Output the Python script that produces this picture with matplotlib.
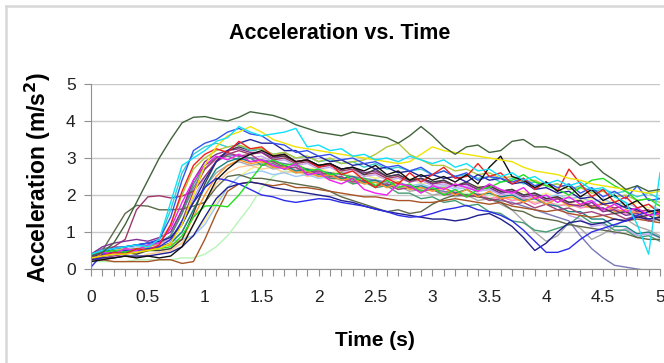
import numpy as np
import matplotlib
matplotlib.use("Agg")
import matplotlib.pyplot as plt
from matplotlib.lines import Line2D

plt.rcParams['font.family'] = ['Liberation Sans', 'DejaVu Sans']

# time samples (s), one value every 0.1 s
t = [round(0.1 * i, 1) for i in range(51)]

# acceleration traces (m/s^2)
top_olive = [0.35, 0.45, 0.70, 1.20, 1.80, 2.40, 3.00, 3.50, 3.95, 4.10, 4.12,
             4.05, 4.00, 4.10, 4.25, 4.20, 4.15, 4.05, 3.90, 3.80, 3.70,
             3.65, 3.60, 3.70, 3.65, 3.60, 3.55, 3.40, 3.60, 3.85, 3.60,
             3.30, 3.10, 3.30, 3.35, 3.15, 3.20, 3.45, 3.50, 3.30, 3.30,
             3.20, 3.05, 2.80, 2.90, 2.60, 2.40, 2.15, 2.25, 2.10, 2.15]
olive_gray = [0.30, 0.50, 1.00, 1.50, 1.72, 1.70, 1.60, 1.60, 1.62, 1.70, 1.80,
              2.20, 2.50, 2.55, 2.45, 2.45, 2.40, 2.35, 2.30, 2.25, 2.20,
              2.10, 1.95, 1.85, 1.75, 1.65, 1.55, 1.60, 1.50, 1.55, 1.75,
              1.90, 2.00, 2.00, 1.95, 1.90, 1.80, 1.60, 1.55, 1.40, 1.35,
              1.30, 1.20, 1.15, 1.10, 1.05, 1.00, 0.95, 0.85, 0.80, 0.80]
blue_low = [0.05, 0.40, 0.45, 0.50, 0.50, 0.55, 0.60, 0.80, 1.30, 1.80, 2.20,
            2.45, 2.40, 2.30, 2.15, 2.00, 1.95, 1.85, 1.80, 1.85, 1.90,
            1.88, 1.80, 1.75, 1.70, 1.62, 1.55, 1.45, 1.40, 1.42, 1.50,
            1.60, 1.65, 1.72, 1.60, 1.55, 1.45, 1.30, 1.05, 0.75, 0.45,
            0.45, 0.55, 0.80, 1.00, 1.10, 1.20, 1.30, 1.45, 1.55, 1.60]
navy_low = [0.25, 0.30, 0.30, 0.35, 0.35, 0.35, 0.40, 0.45, 0.60, 0.90, 1.40,
            1.90, 2.20, 2.30, 2.35, 2.30, 2.20, 2.15, 2.10, 2.05, 2.00,
            1.95, 1.85, 1.80, 1.70, 1.62, 1.55, 1.50, 1.45, 1.40, 1.35,
            1.35, 1.30, 1.35, 1.45, 1.50, 1.35, 1.15, 0.85, 0.50, 0.70,
            1.00, 1.25, 1.30, 1.20, 1.25, 1.35, 1.30, 1.40, 1.35, 1.40]
slate = [0.40, 0.55, 0.60, 0.60, 0.65, 0.70, 0.70, 0.90, 1.50, 2.20, 2.70,
         3.00, 3.10, 3.05, 3.00, 2.95, 2.90, 2.85, 2.80, 2.70, 2.65,
         2.60, 2.55, 2.50, 2.45, 2.40, 2.35, 2.30, 2.25, 2.20, 2.15,
         2.10, 2.05, 2.00, 1.95, 1.90, 1.85, 1.80, 1.70, 1.60, 1.50,
         1.40, 1.30, 0.90, 0.55, 0.30, 0.10, 0.05, 0.00, -0.05, -0.05]
cyan = [0.40, 0.50, 0.55, 0.60, 0.65, 0.60, 0.80, 1.80, 2.80, 3.00, 3.20,
        3.45, 3.55, 3.85, 3.70, 3.60, 3.65, 3.70, 3.80, 3.30, 3.35,
        3.20, 3.25, 3.05, 3.10, 2.95, 3.00, 2.90, 3.05, 2.95, 2.85,
        2.95, 2.75, 2.85, 2.65, 2.70, 2.50, 2.60, 2.40, 2.50, 2.30,
        2.40, 2.25, 2.35, 2.15, 2.20, 1.95, 1.80, 1.20, 0.40, 2.60]
yellow = [0.30, 0.35, 0.40, 0.40, 0.45, 0.50, 0.55, 0.70, 1.20, 2.00, 2.80,
          3.30, 3.60, 3.70, 3.85, 3.70, 3.50, 3.40, 3.30, 3.25, 3.20,
          3.15, 3.10, 3.05, 3.00, 2.95, 2.90, 2.85, 2.90, 3.10, 3.30,
          3.20, 3.15, 3.10, 3.05, 3.00, 2.95, 2.90, 2.75, 2.65, 2.60,
          2.55, 2.45, 2.40, 2.30, 2.25, 2.20, 2.15, 2.10, 2.05, 2.10]
yellow_green = [0.40, 0.45, 0.50, 0.55, 0.50, 0.60, 0.70, 1.20, 2.00, 2.70, 3.00,
                3.20, 3.30, 3.35, 3.25, 3.25, 3.10, 3.15, 3.00, 3.05, 2.90,
                3.00, 2.85, 2.90, 2.95, 3.10, 3.30, 3.40, 3.10, 2.95, 2.80,
                2.80, 2.65, 2.70, 2.55, 2.60, 2.45, 2.50, 2.35, 2.40, 2.25,
                2.30, 2.15, 2.20, 2.05, 2.10, 1.95, 2.00, 1.85, 1.90, 1.80]
red = [0.30, 0.35, 0.45, 0.40, 0.55, 0.50, 0.65, 1.20, 2.10, 2.80, 3.10,
       3.25, 3.15, 3.45, 3.25, 3.30, 3.05, 3.10, 2.90, 2.95, 2.75,
       2.85, 2.55, 2.65, 2.40, 2.20, 2.45, 2.30, 2.60, 2.35, 2.55,
       2.75, 2.45, 2.50, 2.85, 2.50, 2.60, 2.30, 2.45, 2.15, 2.35,
       2.10, 2.70, 2.30, 1.95, 2.15, 1.80, 1.95, 1.65, 1.75, 1.50]
magenta = [0.35, 0.45, 0.40, 0.55, 0.50, 0.65, 0.70, 1.10, 1.80, 2.40, 2.80,
           3.05, 2.95, 3.10, 2.90, 2.95, 2.80, 2.70, 2.85, 2.55, 2.60,
           2.40, 2.30, 2.45, 2.15, 2.05, 2.00, 2.30, 2.25, 2.05, 2.25,
           2.15, 2.30, 2.20, 2.10, 2.30, 2.15, 2.05, 2.20, 1.90, 2.00,
           1.80, 1.95, 1.75, 1.85, 1.60, 1.75, 1.55, 1.65, 1.45, 1.50]
black = [0.20, 0.25, 0.30, 0.35, 0.30, 0.35, 0.30, 0.35, 0.60, 1.20, 1.80,
         2.40, 2.70, 2.95, 3.10, 3.20, 3.05, 3.10, 2.90, 2.95, 2.80,
         2.85, 2.70, 2.75, 2.65, 2.80, 2.55, 2.65, 2.40, 2.55, 2.40,
         2.50, 2.35, 2.55, 2.30, 2.75, 3.05, 2.50, 2.40, 2.20, 2.35,
         2.10, 2.25, 1.95, 2.15, 1.85, 2.00, 1.70, 1.85, 1.55, 1.60]
green = [0.40, 0.45, 0.50, 0.45, 0.55, 0.50, 0.55, 0.60, 0.90, 1.40, 1.70,
         1.72, 1.68, 2.00, 2.40, 2.80, 2.95, 2.80, 2.85, 2.65, 2.70,
         2.55, 2.60, 2.40, 2.45, 2.25, 2.40, 2.20, 2.30, 2.10, 2.20,
         2.00, 2.15, 1.95, 2.15, 2.20, 2.35, 2.40, 2.55, 2.35, 2.25,
         2.15, 2.00, 2.20, 2.40, 2.45, 2.25, 2.10, 1.85, 1.90, 1.70]
pale_green = [0.20, 0.20, 0.20, 0.20, 0.25, 0.25, 0.25, 0.25, 0.30, 0.30, 0.40,
              0.60, 0.90, 1.30, 1.70, 2.20, 2.50, 2.65, 2.60, 2.55, 2.50,
              2.45, 2.40, 2.40, 2.35, 2.30, 2.30, 2.25, 2.20, 2.20, 2.15,
              2.10, 2.05, 2.05, 2.00, 2.00, 1.95, 1.90, 1.85, 1.80, 1.80,
              1.75, 1.70, 1.70, 1.65, 1.60, 1.60, 1.55, 1.50, 1.50, 1.45]
brown = [0.25, 0.25, 0.20, 0.20, 0.20, 0.20, 0.25, 0.25, 0.15, 0.20, 0.80,
         1.50, 2.10, 2.30, 2.35, 2.30, 2.25, 2.30, 2.20, 2.20, 2.15,
         2.10, 2.05, 2.00, 1.95, 1.95, 1.90, 1.85, 1.85, 1.80, 1.80,
         1.85, 1.90, 1.85, 1.80, 1.75, 1.80, 1.70, 1.65, 1.60, 1.55,
         1.60, 1.50, 1.45, 1.40, 1.45, 1.35, 1.30, 1.35, 1.30, 1.25]
mauve = [0.35, 0.45, 0.60, 0.80, 1.60, 1.95, 1.98, 1.92, 1.97, 2.10, 2.50,
         2.90, 3.10, 3.20, 3.10, 3.15, 2.95, 3.00, 2.85, 2.90, 2.75,
         2.80, 2.65, 2.70, 2.55, 2.60, 2.45, 2.50, 2.35, 2.45, 2.30,
         2.35, 2.25, 2.30, 2.15, 2.25, 2.10, 2.15, 2.00, 2.05, 1.90,
         1.95, 1.80, 1.85, 1.70, 1.75, 1.65, 1.70, 1.55, 1.60, 1.45]
orange = [0.30, 0.40, 0.45, 0.50, 0.55, 0.50, 0.60, 0.65, 0.80, 1.40, 2.00,
          2.50, 2.80, 2.95, 2.85, 2.90, 2.75, 2.75, 2.60, 2.65, 2.50,
          2.55, 2.40, 2.45, 2.30, 2.35, 2.20, 2.35, 2.15, 2.20, 2.10,
          2.20, 2.00, 2.15, 1.95, 2.10, 1.90, 1.95, 1.80, 1.95, 1.75,
          1.90, 1.70, 1.75, 1.65, 1.80, 1.55, 1.60, 1.50, 1.55, 1.40]
light_blue = [0.30, 0.40, 0.50, 0.55, 0.60, 0.65, 0.70, 0.75, 0.80, 0.90, 1.20,
              1.70, 2.20, 2.50, 2.60, 2.65, 2.55, 2.60, 2.50, 2.55, 2.45,
              2.50, 2.40, 2.45, 2.35, 2.40, 2.30, 2.35, 2.25, 2.30, 2.20,
              2.25, 2.15, 2.20, 2.10, 2.15, 2.05, 2.10, 2.00, 2.05, 1.95,
              2.00, 1.90, 1.95, 1.80, 1.90, 1.75, 1.80, 1.65, 1.75, 1.60]
turquoise = [0.40, 0.50, 0.55, 0.60, 0.65, 0.60, 0.80, 1.60, 2.60, 3.10, 3.30,
             3.40, 3.30, 3.35, 3.20, 3.25, 3.10, 3.15, 3.00, 3.05, 2.90,
             2.95, 2.85, 2.90, 2.75, 2.85, 2.70, 2.75, 2.65, 2.70, 2.55,
             2.65, 2.50, 2.55, 2.45, 2.50, 2.35, 2.45, 2.30, 2.35, 2.25,
             2.30, 2.15, 2.25, 2.10, 2.15, 2.05, 2.10, 1.95, 2.05, 1.90]
gray = [0.30, 0.35, 0.40, 0.45, 0.50, 0.55, 0.60, 0.70, 1.00, 1.60, 2.20,
        2.60, 2.80, 2.90, 2.80, 2.85, 2.70, 2.75, 2.60, 2.65, 2.50,
        2.55, 2.40, 2.45, 2.30, 2.35, 2.20, 2.25, 2.10, 2.15, 2.00,
        2.05, 1.95, 2.00, 1.85, 1.90, 1.75, 1.60, 1.30, 1.00, 0.75,
        0.90, 1.25, 1.10, 0.80, 0.95, 1.15, 1.35, 1.15, 1.05, 0.90]
sea_green = [0.35, 0.40, 0.45, 0.50, 0.55, 0.60, 0.70, 0.90, 1.50, 2.30, 2.80,
             3.00, 3.05, 2.95, 3.00, 2.80, 2.85, 2.70, 2.75, 2.55, 2.60,
             2.45, 2.45, 2.30, 2.35, 2.20, 2.25, 2.05, 2.05, 1.90, 1.95,
             1.80, 1.85, 1.70, 1.75, 1.55, 1.50, 1.30, 1.25, 1.05, 1.00,
             1.10, 1.20, 1.45, 1.25, 1.25, 1.05, 1.05, 0.85, 0.90, 0.75]
purple = [0.40, 0.60, 0.70, 0.75, 0.80, 0.75, 0.85, 1.00, 1.60, 2.40, 2.90,
          3.10, 3.20, 3.25, 3.15, 3.15, 3.00, 3.05, 2.90, 2.95, 2.80,
          2.85, 2.70, 2.75, 2.60, 2.65, 2.50, 2.55, 2.40, 2.45, 2.30,
          2.40, 2.25, 2.30, 2.15, 2.20, 2.05, 2.10, 1.95, 2.00, 1.85,
          1.90, 1.75, 1.70, 1.80, 1.55, 1.60, 1.45, 1.50, 1.35, 1.40]
royal_blue = [0.40, 0.50, 0.55, 0.60, 0.65, 0.70, 0.80, 1.40, 2.40, 3.20, 3.40,
              3.50, 3.70, 3.80, 3.65, 3.60, 3.40, 3.35, 3.15, 3.20, 3.05,
              3.10, 2.95, 3.00, 2.85, 2.90, 2.75, 2.80, 2.65, 2.75, 2.55,
              2.65, 2.50, 2.60, 2.40, 2.50, 2.45, 2.35, 2.45, 2.25, 2.35,
              2.20, 2.30, 2.05, 2.20, 1.95, 2.10, 1.90, 2.25, 1.85, 1.90]
dark_blue = [0.30, 0.45, 0.55, 0.60, 0.65, 0.70, 0.75, 0.85, 1.20, 1.80, 2.40,
             2.90, 3.20, 3.40, 3.50, 3.40, 3.40, 3.20, 3.20, 3.00, 3.05,
             2.90, 2.95, 2.80, 2.85, 2.70, 2.75, 2.60, 2.65, 2.50, 2.55,
             2.45, 2.50, 2.35, 2.55, 2.40, 2.45, 2.30, 2.35, 2.15, 2.20,
             2.05, 2.10, 1.90, 1.95, 1.75, 1.80, 1.65, 1.60, 1.45, 1.55]
teal = [0.35, 0.40, 0.45, 0.50, 0.55, 0.50, 0.60, 0.70, 1.00, 1.60, 2.20,
        2.70, 2.90, 3.00, 2.90, 2.95, 2.75, 2.80, 2.65, 2.70, 2.55,
        2.60, 2.45, 2.50, 2.35, 2.40, 2.25, 2.35, 2.20, 2.25, 2.15,
        2.20, 2.05, 2.15, 2.00, 2.05, 1.95, 2.00, 1.85, 1.90, 1.75,
        1.70, 1.55, 1.55, 1.35, 1.35, 1.15, 1.15, 0.95, 1.00, 0.85]
peach = [0.20, 0.25, 0.30, 0.35, 0.30, 0.40, 0.45, 0.50, 0.70, 1.20, 1.80,
         2.30, 2.60, 2.75, 2.80, 2.70, 2.75, 2.60, 2.65, 2.50, 2.55,
         2.40, 2.45, 2.30, 2.40, 2.25, 2.30, 2.20, 2.25, 2.10, 2.20,
         2.05, 2.10, 2.00, 2.05, 1.90, 2.00, 1.85, 1.90, 1.80, 1.85,
         1.70, 1.80, 1.65, 1.70, 1.60, 1.65, 1.50, 1.60, 1.45, 1.55]
pink = [0.30, 0.35, 0.40, 0.45, 0.50, 0.55, 0.65, 0.90, 1.60, 2.30, 2.70,
        2.95, 3.05, 2.95, 3.00, 2.80, 2.85, 2.70, 2.70, 2.55, 2.60,
        2.45, 2.50, 2.35, 2.40, 2.25, 2.30, 2.15, 2.25, 2.10, 2.15,
        2.05, 2.10, 1.95, 2.05, 1.90, 1.95, 1.85, 1.90, 1.75, 1.85,
        1.70, 1.75, 1.65, 1.70, 1.55, 1.65, 1.50, 1.55, 1.45, 1.50]
lavender = [0.40, 0.50, 0.55, 0.60, 0.65, 0.60, 0.70, 0.80, 1.20, 1.90, 2.50,
            2.90, 3.05, 3.10, 3.00, 3.05, 2.90, 2.95, 2.80, 2.85, 2.70,
            2.75, 2.60, 2.65, 2.50, 2.55, 2.40, 2.45, 2.35, 2.40, 2.25,
            2.30, 2.20, 2.25, 2.10, 2.15, 2.00, 2.05, 1.90, 1.95, 1.75,
            1.70, 1.45, 1.35, 1.15, 1.20, 0.95, 1.10, 0.90, 0.95, 0.85]
dark_gray = [0.30, 0.35, 0.40, 0.45, 0.40, 0.50, 0.50, 0.55, 0.80, 1.50, 2.30,
             2.90, 3.20, 3.30, 3.20, 3.25, 3.05, 3.05, 2.90, 2.95, 2.80,
             2.85, 2.70, 2.75, 2.55, 2.70, 2.50, 2.55, 2.40, 2.45, 2.35,
             2.40, 2.25, 2.35, 2.20, 2.25, 2.10, 2.15, 2.00, 2.05, 1.90,
             1.95, 1.80, 1.85, 1.65, 1.65, 1.50, 1.55, 1.40, 1.45, 1.30]
plum = [0.25, 0.30, 0.35, 0.40, 0.45, 0.50, 0.55, 0.70, 1.30, 2.10, 2.70,
        3.00, 3.15, 3.05, 3.10, 2.90, 2.90, 2.75, 2.75, 2.60, 2.65,
        2.50, 2.50, 2.35, 2.40, 2.25, 2.30, 2.15, 2.20, 2.10, 2.15,
        2.00, 2.05, 1.95, 2.00, 1.85, 1.90, 1.75, 1.80, 1.65, 1.75,
        1.60, 1.65, 1.50, 1.55, 1.45, 1.50, 1.35, 1.45, 1.30, 1.35]
light_yellow = [0.30, 0.35, 0.40, 0.45, 0.40, 0.50, 0.50, 0.55, 0.70, 0.90, 1.30,
                1.80, 2.20, 2.50, 2.70, 2.85, 2.90, 2.80, 2.85, 2.70, 2.75,
                2.60, 2.65, 2.50, 2.55, 2.45, 2.50, 2.35, 2.45, 2.30, 2.35,
                2.25, 2.30, 2.15, 2.25, 2.10, 2.15, 2.05, 2.10, 1.95, 2.05,
                1.90, 1.95, 1.85, 1.90, 1.80, 1.85, 1.70, 1.80, 1.65, 1.75]

series = [
    (pale_green, '#b8f4b8'), (light_yellow, '#f6ee80'), (peach, '#ffc890'),
    (light_blue, '#9cc8f8'), (lavender, '#c4a4f0'), (pink, '#ff88c8'),
    (gray, '#a8a8a8'), (slate, '#7878b8'), (sea_green, '#449c74'),
    (teal, '#188484'), (olive_gray, '#5c6a48'), (brown, '#a85424'),
    (mauve, '#a03868'), (plum, '#a04478'), (orange, '#ff9428'),
    (purple, '#843094'), (dark_gray, '#404040'), (turquoise, '#38cccc'),
    (yellow_green, '#b4c83c'), (navy_low, '#20208c'),
    (blue_low, '#2c2ce8'), (dark_blue, '#24249a'), (royal_blue, '#3454f0'),
    (green, '#20e020'), (magenta, '#f020f0'), (red, '#f02020'),
    (black, '#101010'), (yellow, '#f0e400'), (cyan, '#10e0f8'),
    (top_olive, '#40643a'),
]

fig = plt.figure(figsize=(6.64, 3.63), dpi=100)
ax = fig.add_axes([91 / 664, 1 - 269 / 363, (660 - 91) / 664, (269 - 84) / 363])

for vals, col in series:
    ax.plot(t, vals, color=col, lw=1.0)

ax.set_xlim(0, 5)
ax.set_ylim(0, 5)
ax.set_xticks(np.arange(0, 5.01, 0.5))
ax.set_xticklabels(['0', '0.5', '1', '1.5', '2', '2.5', '3', '3.5', '4', '4.5', '5'])
ax.set_xticks(np.arange(0, 5.01, 0.1), minor=True)
ax.set_yticks([0, 1, 2, 3, 4, 5])
ax.yaxis.grid(True, color='#c8c8c8', lw=1.0)
ax.set_axisbelow(True)
for s in ['top', 'right']:
    ax.spines[s].set_visible(False)
for s in ['left', 'bottom']:
    ax.spines[s].set_color('#909090')
ax.tick_params(axis='both', which='both', color='#909090', length=5, width=0.8,
               labelsize=12.5, labelcolor='#222222')
ax.tick_params(axis='x', pad=10)
ax.tick_params(axis='y', pad=6)

fig.text(0.512, 0.909, 'Acceleration vs. Time', ha='center', va='center',
         fontsize=15.5, fontweight='bold')
fig.text(0.057, 0.51, 'Acceleration (m/s$^\\mathbf{2}$)', rotation=90, ha='center', va='center',
         fontsize=16.5, fontweight='bold')
fig.text(0.565, 0.063, 'Time (s)', ha='center', va='center', fontsize=15, fontweight='bold')

# light frame of the chart area
fig.add_artist(Line2D([6 / 664, 1.0], [1 - 6 / 363, 1 - 6 / 363], color='#d8d8d8', lw=1.8))
fig.add_artist(Line2D([6 / 664, 6 / 664], [0.0, 1 - 6 / 363], color='#d8d8d8', lw=1.8))

fig.savefig('out.png', dpi=100)
